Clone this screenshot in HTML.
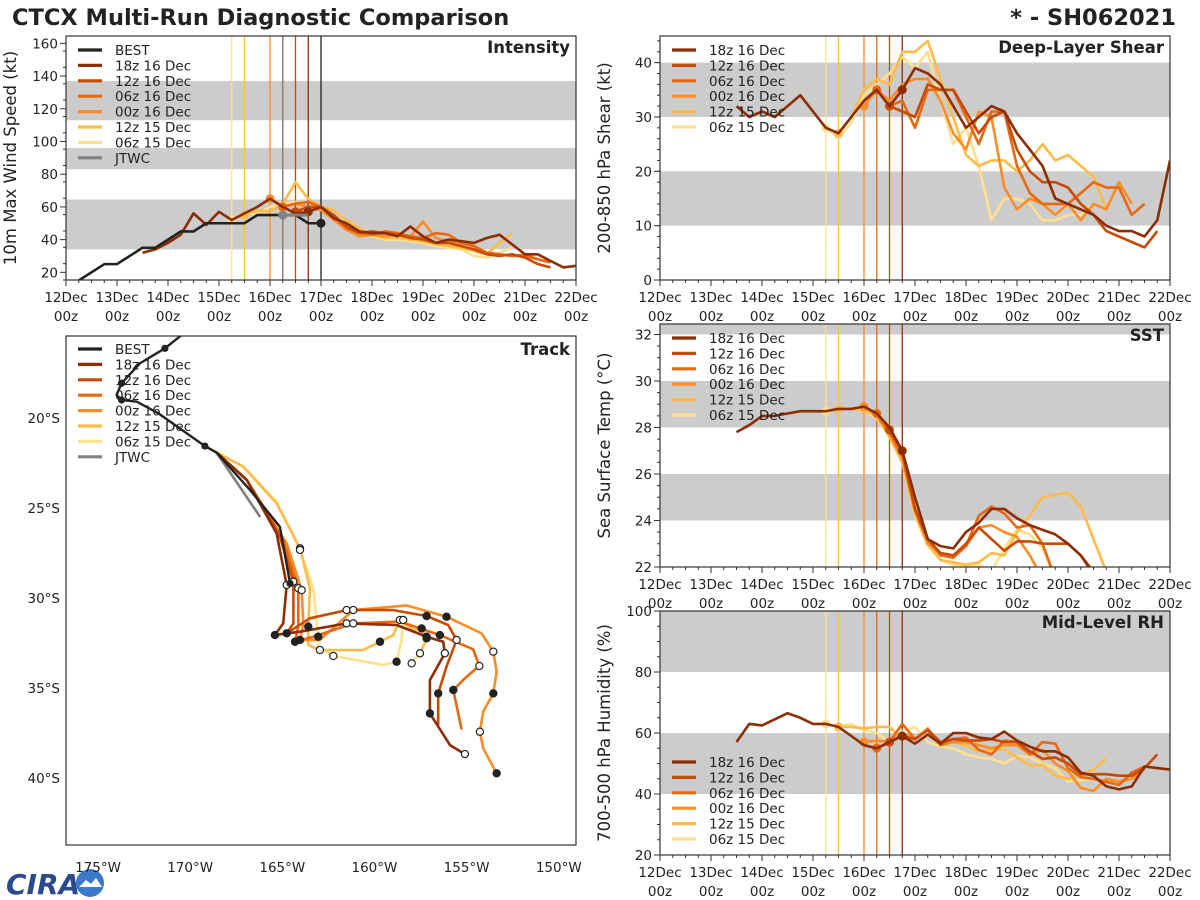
<!DOCTYPE html>
<html><head><meta charset="utf-8"><style>
body{margin:0;background:#fff;}
svg{display:block;font-family:"DejaVu Sans","Liberation Sans",sans-serif;}
</style></head><body>
<svg id="fig" width="1200" height="900" viewBox="0 0 1200 900">
<text x="12" y="25" font-size="22.5" font-weight="bold" fill="#222">CTCX Multi-Run Diagnostic Comparison</text>
<text x="1176" y="25" font-size="22.5" font-weight="bold" fill="#222" text-anchor="end">* - SH062021</text>
<g>
<text x="6" y="894" font-size="28" font-weight="bold" fill="#2a4a8c" font-style="italic">CIRA</text>
<circle cx="90" cy="883" r="14" fill="#3a7ac8"/>
<path d="M79 887 L86 880 L91 884 L96 878 L102 887 Z" fill="#fff"/>
</g>
</svg>
<script>
const NS="http://www.w3.org/2000/svg";
const svg=document.getElementById('fig');
function mk(tag,attrs,parent){const e=document.createElementNS(NS,tag);for(const k in attrs)e.setAttribute(k,attrs[k]);(parent||svg).appendChild(e);return e;}

// ---------- data ----------
const runNames=["18z 16 Dec","12z 16 Dec","06z 16 Dec","00z 16 Dec","12z 15 Dec","06z 15 Dec"];
const runColors=["#8c2d04","#c94a02","#e8680f","#fb8c26","#febb47","#fee08f"];
const runInit=[16.75,16.5,16.25,16.0,15.5,15.25];
const tickDays=["12Dec","13Dec","14Dec","15Dec","16Dec","17Dec","18Dec","19Dec","20Dec","21Dec","22Dec"];

const bestTimes=[12.0,12.25,12.5,12.75,13,13.25,13.5,13.75,14,14.25,14.5,14.75,15,15.25,15.5,15.75,16,16.25,16.5,16.75,17];
const bestWind=[10,15,20,25,25,30,35,35,40,45,45,50,50,50,50,55,55,55,55,50,50];
const jtwcTimes=[16.25,16.5,16.75];
const jtwcWind=[55,55,55];

const windStart=[13.5,16.5,16.25,16.0,15.5,15.25];
const wind18z16=[32,34,38,43,56,49,57,52,56,60,65,60,56,57,60,53,50,45,44,44,42,48,42,38,40,39,38,41,43,37,31,31,27,23,24];
const wind12z16=[57,60,60,55,48,44,45,44,43,41,40,38,38,36,34,31,30,31,29,25,23];
const wind06z16=[60,62,63,60,54,47,44,43,45,44,42,41,44,43,38,36,32,31,30,30,28,26];
const wind00z16=[65,60,62,60,58,52,46,42,43,42,43,42,51,41,39,38,36,32,31,30,31,28,26];
const wind12z15=[55,58,57,62,75,65,60,58,52,47,43,41,41,40,39,37,36,35,33,31,38,44];
const wind06z15=[52,56,56,60,62,63,63,60,55,48,44,42,40,40,39,38,36,35,34,30,29,32,35];

const shearStart=[13.5,16.5,16.25,16.0,15.5,15.25];
const shear18z16=[32,30,31,30,32,34,31,28,27,30,33,35,32,35,39,38,36,32,28,30,32,31,27,24,21,15,14,13,12,10,9,9,8,11,22];
const shear12z16=[32,31,30,36,35,35,31,27,30,31,24,20,18,18,17,14,12,9,8,7,6,9];
const shear06z16=[35,32,33,28,35,35,35,30,25,31,31,21,16,14,14,14,16,18,17,17,12,14];
const shear00z16=[32,35,33,36,37,37,33,27,24,31,30,17,13,15,14,12,14,11,14,13,18,14];
const shear12z15=[27,30,35,37,36,42,42,44,37,30,23,21,22,22,20,22,25,22,23,21,19,13];
const shear06z15=[28,26,29,34,36,38,41,39,42,33,25,28,21,11,15,15,14,11,11,12,12,14];

const sstStart=[13.5,16.5,16.25,16.0,15.5,15.25];
const sst18z16=[27.8,28.1,28.5,28.5,28.6,28.7,28.7,28.7,28.8,28.8,28.9,28.6,28.0,27.0,25.0,23.2,22.9,22.8,23.5,23.9,24.5,24.5,24.1,23.8,23.6,23.4,23.0,22.5,21.7];
const sst12z16=[27.9,27.0,24.5,23.2,22.6,22.5,23.0,23.7,23.2,22.7,23.1,23.1,23.0,23.0,23.0,22.5,21.8];
const sst06z16=[28.6,27.8,26.8,24.5,23.2,22.5,22.4,22.9,24.2,24.6,24.3,23.7,23.8,23.0,21.5];
const sst00z16=[28.9,28.5,27.7,26.7,24.4,23.0,22.6,22.5,22.9,23.7,23.8,23.5,23.3,22.5,21.5];
const sst12z15=[28.8,28.8,28.7,28.5,27.6,26.5,24.3,23.0,22.3,22.2,22.1,22.2,22.6,22.5,23.5,24.2,25.0,25.1,25.2,24.6,23.2,21.8];
const sst06z15=[28.7,28.8,28.8,28.7,28.4,27.6,26.5,24.2,22.9,22.3,22.1,22.0,22.1,21.8,22.8,23.6,23.4,22.8,21.5];

const rhStart=[13.5,16.5,16.25,16.0,15.5,15.25];
const rh18z16=[57,63,62.5,64.5,66.5,65,63,63,62,59,56,55,57,59,56.5,59.5,56.5,60,60,58.5,58,60.5,57.5,55.5,54,54,52,47,46,42.5,41.5,42.5,49,48.5,48];
const rh12z16=[57,59,58,61,57,58,57.5,57.5,58,57,57,54,51.5,52,50,46.5,46.5,46.5,46,46,48.5,53];
const rh06z16=[55,57,63,58,61,56,58,58.5,54.5,53,57.5,57,53,57,56.5,48.5,45.5,45,44,43,47,49];
const rh00z16=[57,57.5,57,60,58,61.5,56,57,57,56,55,56,56,53,54.5,50,47.5,42,41,45,44,45,48];
const rh12z15=[62,62,61.5,62,62,58,58,61,56,57,56,54,54.5,54.5,52,49.5,49.5,46,45,46.5,48,51.5];
const rh06z15=[63,62,63,61,60,57,60.5,62,57,55.5,55,53,52,51.5,50,52.5,52,50,48.5,44,44.5,45];

// track (lon, lat)
const bestLon=[-170.46,-171.37,-172.72,-173.72,-173.99,-173.72,-172.9,-171.73,-169.2,-168.56,-166.75,-165.13,-164.58];
const bestLat=[-15.39,-16.13,-16.96,-18.07,-18.72,-19.0,-19.09,-19.74,-21.56,-21.93,-24.0,-26.04,-29.19];
const jtwcLon=[-168.56,-166.2];
const jtwcLat=[-21.93,-25.5];
const trk18z16Lon=[-168.56,-166.93,-165.31,-164.76,-164.95,-165.40,-164.04,-161.51,-158.80,-157.17,-156.27,-156.18,-156.99,-156.99,-155.90,-155.09];
const trk18z16Lat=[-21.93,-23.44,-26.41,-29.28,-31.41,-32.06,-31.87,-31.41,-31.50,-32.15,-32.43,-33.07,-34.56,-36.41,-38.17,-38.67];
const trk12z16Lon=[-168.56,-166.93,-165.13,-164.40,-164.40,-164.76,-163.50,-161.51,-158.98,-157.17,-156.00,-155.54,-156.09,-156.54,-156.54];
const trk12z16Lat=[-21.93,-23.44,-26.59,-29.09,-31.41,-31.96,-31.13,-30.67,-30.67,-31.0,-31.50,-32.33,-33.81,-35.30,-37.06];
const trk06z16Lon=[-168.56,-166.93,-164.95,-164.13,-164.13,-164.31,-163.32,-161.15,-158.62,-156.45,-154.64,-154.31,-155.0,-155.72,-155.27];
const trk06z16Lat=[-21.93,-23.44,-26.78,-29.46,-31.59,-32.43,-32.15,-31.41,-31.31,-32.06,-32.85,-33.78,-34.37,-35.11,-37.30];
const trk00z16Lon=[-168.56,-166.93,-164.76,-163.95,-163.86,-164.04,-162.96,-161.15,-158.26,-156.09,-154.19,-153.55,-153.37,-153.55,-154.10,-154.28,-154.10,-153.37];
const trk00z16Lat=[-21.93,-23.44,-26.96,-29.56,-31.41,-32.33,-32.33,-30.67,-30.41,-31.04,-31.96,-32.98,-34.09,-35.30,-36.31,-37.43,-38.35,-39.74];
const trk12z15Lon=[-168.56,-167.12,-165.31,-164.04,-163.50,-163.59,-163.59,-162.96,-160.61,-159.70,-158.98,-158.62,-157.89,-157.44,-157.17,-157.53];
const trk12z15Lat=[-21.93,-22.70,-24.74,-27.24,-29.46,-31.59,-32.61,-32.89,-32.89,-32.43,-32.06,-31.22,-31.78,-31.69,-32.33,-33.07];
const trk06z15Lon=[-169.10,-167.12,-165.31,-164.04,-163.32,-163.05,-163.05,-162.23,-159.52,-158.80,-158.53,-158.44,-157.89,-157.17,-157.53,-157.98];
const trk06z15Lat=[-21.59,-22.70,-24.65,-27.33,-29.46,-32.15,-32.70,-33.22,-33.72,-33.54,-32.33,-31.22,-31.78,-32.24,-33.07,-33.63];

const lonTicks=[-175,-170,-165,-160,-155,-150];
const latTicks=[-20,-25,-30,-35,-40];

// ---------- generic time panel ----------
function timePanel(p){
  const g=mk('g',{});
  
  
  const X=t=>p.x0+(t-12)/10*(p.x1-p.x0);
  const Y=v=>p.y1-(v-p.ymin)/(p.ymax-p.ymin)*(p.y1-p.y0);
  const clip=mk('clipPath',{id:'clip-'+p.name},g);
  mk('rect',{x:p.x0,y:p.y0,width:p.x1-p.x0,height:p.y1-p.y0},clip);
  const inner=mk('g',{'clip-path':'url(#clip-'+p.name+')'},g);
  p.bands.forEach(b=>{
    const r=mk('rect',{x:p.x0,y:Y(b[1]),width:p.x1-p.x0,height:Y(b[0])-Y(b[1]),fill:'#cccccc'},inner);
    
    
  });
  runInit.forEach((t,i)=>{
    const l=mk('line',{x1:X(t),x2:X(t),y1:p.y0,y2:p.y1,stroke:runColors[i],'stroke-width':1.3},inner);
    
    
  });
  (p.extraV||[]).forEach(v=>{
    const l=mk('line',{x1:X(v[0]),x2:X(v[0]),y1:p.y0,y2:p.y1,stroke:v[1],'stroke-width':1.3},inner);
    
    
  });
  for(let i=p.series.length-1;i>=0;i--){
    const arr=p.series[i];
    const pts=arr.map((v,k)=>X(p.start[i]+k*0.25).toFixed(1)+','+Y(v).toFixed(1)).join(' ');
    const pl=mk('polyline',{points:pts,fill:'none',stroke:runColors[i],'stroke-width':2.6,'stroke-linejoin':'round'},inner);
    
    
    const k=Math.round((runInit[i]-p.start[i])/0.25);
    if(k>=0&&k<arr.length){
      const c=mk('circle',{cx:X(runInit[i]),cy:Y(arr[k]),r:4.5,fill:runColors[i]},inner);
      
      
    }
  }
  if(p.extra) p.extra(inner,X,Y);
  const f=mk('rect',{x:p.x0,y:p.y0,width:p.x1-p.x0,height:p.y1-p.y0,fill:'none',stroke:'#333','stroke-width':1.2},g);
  
  
  tickDays.forEach((d,i)=>{
    const x=X(12+i);
    mk('line',{x1:x,x2:x,y1:p.y1,y2:p.y1+6,stroke:'#333'},g);
    const t1=mk('text',{x:x,y:p.y1+22,'font-size':13.5,'text-anchor':'middle',fill:'#222'},g);
    t1.textContent=d;
    
    
    const t2=mk('text',{x:x,y:p.y1+41,'font-size':13.5,'text-anchor':'middle',fill:'#222'},g);
    t2.textContent='00z';
    
    
  });
  for(let t=12.25;t<22;t+=0.25){ if(Math.abs(t-Math.round(t))>0.01) mk('line',{x1:X(t),x2:X(t),y1:p.y1,y2:p.y1+3,stroke:'#333'},g);}
  p.yticks.forEach(v=>{
    mk('line',{x1:p.x0-6,x2:p.x0,y1:Y(v),y2:Y(v),stroke:'#333'},g);
    const t=mk('text',{x:p.x0-8,y:Y(v)+5,'font-size':13.5,'text-anchor':'end',fill:'#222'},g);
    t.textContent=v;
    
    
  });
  for(let v=p.ymin;v<=p.ymax;v+=p.minor){mk('line',{x1:p.x0-3,x2:p.x0,y1:Y(v),y2:Y(v),stroke:'#333'},g);}
  const yl=mk('text',{x:0,y:0,'font-size':16.5,'text-anchor':'middle',fill:'#222',transform:`translate(${p.x0-50},${(p.y0+p.y1)/2}) rotate(-90)`},g);
  yl.textContent=p.ylabel;
  
  
  const tt=mk('text',{x:p.x1-6,y:p.y0+17,'font-size':16.5,'font-weight':'bold','text-anchor':'end',fill:'#222'},g);
  tt.textContent=p.title;
  
  
  legend(g,p.x0+12,p.legY,p.legItems);
}
function legend(g,x,y,items){
  const lg=mk('g',{},g);
  
  
  items.forEach((it,i)=>{
    const yy=y+i*15.4;
    mk('line',{x1:x,x2:x+24,y1:yy,y2:yy,stroke:it[1],'stroke-width':3.2},lg);
    const t=mk('text',{x:x+37,y:yy+5,'font-size':13.5,fill:'#222'},lg);
    t.textContent=it[0];
    
    
  });
}
const runLegend=runNames.map((n,i)=>[n,runColors[i]]);

timePanel({name:'intensity-panel',x0:66,x1:576,y0:36,y1:280,ymin:15.3,ymax:164.5,
  bands:[[34,64.5],[83,96],[113,137]],yticks:[20,40,60,80,100,120,140,160],minor:10,
  series:[wind18z16,wind12z16,wind06z16,wind00z16,wind12z15,wind06z15],start:windStart,
  ylabel:'10m Max Wind Speed (kt)',title:'Intensity',legY:50,
  legItems:[['BEST','#222']].concat(runLegend).concat([['JTWC','#808080']]),
  extraV:[[16.25,'#808080'],[17,'#222']],
  extra:(g,X,Y)=>{
    const bp=mk('polyline',{points:bestTimes.map((t,k)=>X(t)+','+Y(bestWind[k])).join(' '),fill:'none',stroke:'#222','stroke-width':2.6},g);
    
    
    const bc=mk('circle',{cx:X(bestTimes[bestTimes.length-1]),cy:Y(bestWind[bestWind.length-1]),r:4.5,fill:'#222'},g);
    
    
    const jp=mk('polyline',{points:jtwcTimes.map((t,k)=>X(t)+','+Y(jtwcWind[k])).join(' '),fill:'none',stroke:'#808080','stroke-width':3},g);
    
    
    const jc=mk('circle',{cx:X(jtwcTimes[0]),cy:Y(jtwcWind[0]),r:4.5,fill:'#808080'},g);
    
    
  }});
timePanel({name:'shear-panel',x0:660,x1:1170,y0:36,y1:280,ymin:0,ymax:44.9,
  bands:[[10,20],[30,40]],yticks:[0,10,20,30,40],minor:2,
  series:[shear18z16,shear12z16,shear06z16,shear00z16,shear12z15,shear06z15],start:shearStart,
  ylabel:'200-850 hPa Shear (kt)',title:'Deep-Layer Shear',legY:50,legItems:runLegend});
timePanel({name:'sst-panel',x0:660,x1:1170,y0:324,y1:567,ymin:22,ymax:32.45,
  bands:[[24,26],[28,30],[32,33]],yticks:[22,24,26,28,30,32],minor:0.5,
  series:[sst18z16,sst12z16,sst06z16,sst00z16,sst12z15,sst06z15],start:sstStart,
  ylabel:'Sea Surface Temp (°C)',title:'SST',legY:338,legItems:runLegend});
timePanel({name:'rh-panel',x0:660,x1:1170,y0:611,y1:855,ymin:20,ymax:100,
  bands:[[40,60],[80,100]],yticks:[20,40,60,80,100],minor:5,
  series:[rh18z16,rh12z16,rh06z16,rh00z16,rh12z15,rh06z15],start:rhStart,
  ylabel:'700-500 hPa Humidity (%)',title:'Mid-Level RH',legY:762,legItems:runLegend});

// ---------- track panel ----------
(function(){
  const x0=66,x1=576,y0=336,y1=845;
  const g=mk('g',{});
  
  
  const LX=lon=>98+(lon+175)*18.43;
  const LY=lat=>418+(-20-lat)*18;
  const clip=mk('clipPath',{id:'clip-track'},g);
  mk('rect',{x:x0,y:y0,width:x1-x0,height:y1-y0},clip);
  const inner=mk('g',{'clip-path':'url(#clip-track)'},g);
  const tracks=[[trk18z16Lon,trk18z16Lat],[trk12z16Lon,trk12z16Lat],[trk06z16Lon,trk06z16Lat],[trk00z16Lon,trk00z16Lat],[trk12z15Lon,trk12z15Lat],[trk06z15Lon,trk06z15Lat]];
  for(let i=tracks.length-1;i>=0;i--){
    const [lo,la]=tracks[i];
    const pl=mk('polyline',{points:lo.map((v,k)=>LX(v).toFixed(1)+','+LY(la[k]).toFixed(1)).join(' '),fill:'none',stroke:runColors[i],'stroke-width':2.6,'stroke-linejoin':'round'},inner);
    
    
  }
  tracks.forEach(([lo,la])=>{
    for(let k=3;k<lo.length;k+=2){
      const c=mk('circle',{cx:LX(lo[k]),cy:LY(la[k]),r:3.6,fill:(k%4==1)?'#222':'#fff',stroke:'#222','stroke-width':1.2},inner);
      
      
    }
  });
  const jp=mk('polyline',{points:jtwcLon.map((v,k)=>LX(v)+','+LY(jtwcLat[k])).join(' '),fill:'none',stroke:'#808080','stroke-width':2.6},inner);
  
  
  const bp=mk('polyline',{points:bestLon.map((v,k)=>LX(v)+','+LY(bestLat[k])).join(' '),fill:'none',stroke:'#222','stroke-width':2.4},inner);
  
  
  [1,3,5,8,12].forEach(k=>{
    const c=mk('circle',{cx:LX(bestLon[k]),cy:LY(bestLat[k]),r:3.6,fill:'#222'},inner);
    
    
  });
  const f=mk('rect',{x:x0,y:y0,width:x1-x0,height:y1-y0,fill:'none',stroke:'#333','stroke-width':1.2},g);
  
  
  lonTicks.forEach(v=>{
    const t=mk('text',{x:LX(v),y:872,'font-size':13.5,'text-anchor':'middle',fill:'#222'},g);
    t.textContent=Math.abs(v)+'°W';
    
    
  });
  latTicks.forEach(v=>{
    const t=mk('text',{x:60,y:LY(v)+5,'font-size':13.5,'text-anchor':'end',fill:'#222'},g);
    t.textContent=Math.abs(v)+'°S';
    
    
  });
  const tt=mk('text',{x:x1-6,y:y0+19,'font-size':16.5,'font-weight':'bold','text-anchor':'end',fill:'#222'},g);
  tt.textContent='Track';
  
  
  legend(g,78,349,[['BEST','#222']].concat(runLegend).concat([['JTWC','#808080']]));
})();
</script>
</body></html>
